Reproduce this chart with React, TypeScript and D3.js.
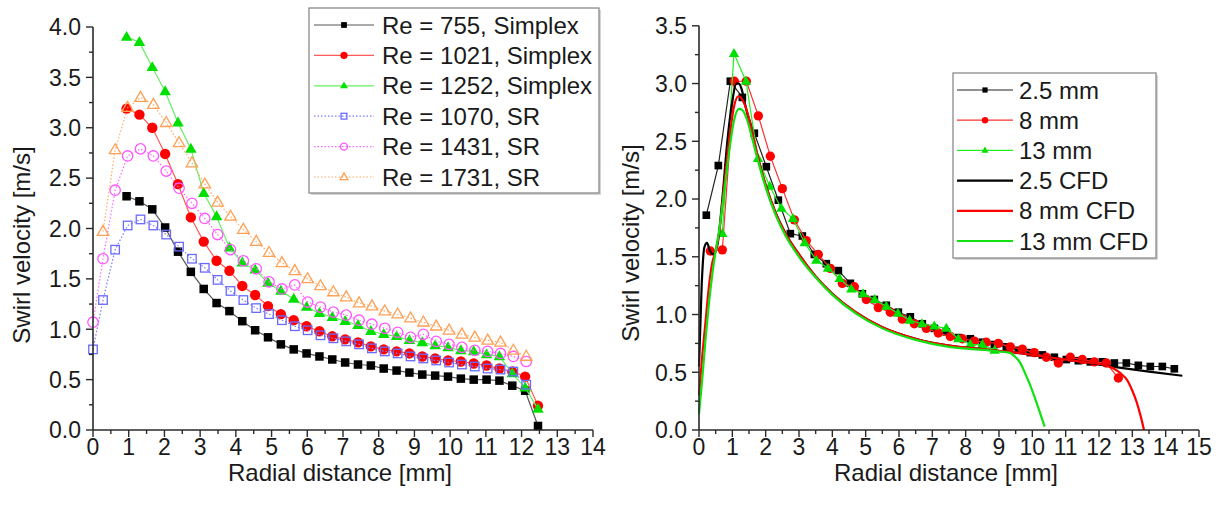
import React from 'react';
import * as d3 from 'd3';

const W = 1222;
const H = 511;
const FONT = "'Liberation Sans', Arial, Helvetica, sans-serif";

// ---------------- Left panel data ----------------
const simplexX = [0.94, 1.30, 1.66, 2.02, 2.38, 2.74, 3.10, 3.46, 3.82, 4.18, 4.54, 4.90, 5.26, 5.62, 5.98, 6.34, 6.70, 7.06, 7.42, 7.78, 8.14, 8.50, 8.86, 9.22, 9.58, 9.94, 10.30, 10.66, 11.02, 11.38, 11.74, 12.10, 12.46];
const re755 = [2.32, 2.27, 2.19, 2.01, 1.77, 1.57, 1.40, 1.26, 1.18, 1.08, 0.99, 0.92, 0.85, 0.80, 0.76, 0.73, 0.70, 0.67, 0.65, 0.64, 0.61, 0.59, 0.57, 0.55, 0.54, 0.53, 0.51, 0.50, 0.50, 0.49, 0.44, 0.39, 0.04];
const re1021 = [3.19, 3.13, 3.00, 2.74, 2.44, 2.11, 1.87, 1.68, 1.58, 1.43, 1.34, 1.23, 1.15, 1.09, 1.03, 0.98, 0.93, 0.90, 0.87, 0.83, 0.80, 0.78, 0.76, 0.73, 0.71, 0.69, 0.68, 0.66, 0.64, 0.61, 0.58, 0.53, 0.24];
const re1252 = [3.90, 3.85, 3.60, 3.36, 3.05, 2.79, 2.35, 2.12, 1.81, 1.66, 1.59, 1.46, 1.38, 1.30, 1.22, 1.16, 1.12, 1.08, 1.04, 0.98, 0.95, 0.93, 0.89, 0.87, 0.84, 0.82, 0.79, 0.78, 0.75, 0.73, 0.56, 0.42, 0.21];

const srX = [0, 0.28, 0.62, 0.97, 1.33, 1.69, 2.05, 2.41, 2.77, 3.13, 3.49, 3.85, 4.21, 4.57, 4.93, 5.29, 5.65, 6.01, 6.37, 6.73, 7.09, 7.45, 7.81, 8.17, 8.53, 8.89, 9.25, 9.61, 9.97, 10.33, 10.69, 11.05, 11.41, 11.77, 12.13];
const re1070 = [0.80, 1.29, 1.79, 2.03, 2.09, 2.03, 1.94, 1.82, 1.70, 1.61, 1.49, 1.38, 1.29, 1.21, 1.15, 1.09, 1.03, 0.99, 0.94, 0.91, 0.88, 0.85, 0.81, 0.78, 0.76, 0.73, 0.71, 0.69, 0.67, 0.65, 0.63, 0.61, 0.60, 0.58, 0.45];
const re1431 = [1.07, 1.70, 2.38, 2.72, 2.79, 2.72, 2.57, 2.40, 2.25, 2.10, 1.94, 1.79, 1.68, 1.60, 1.47, 1.40, 1.44, 1.27, 1.22, 1.17, 1.14, 1.09, 1.05, 1.01, 0.97, 0.92, 0.95, 0.88, 0.85, 0.82, 0.79, 0.78, 0.76, 0.73, 0.68];
const re1731X = [0.28, 0.62, 0.97, 1.33, 1.69, 2.05, 2.41, 2.77, 3.13, 3.49, 3.85, 4.21, 4.57, 4.93, 5.29, 5.65, 6.01, 6.37, 6.73, 7.09, 7.45, 7.81, 8.17, 8.53, 8.89, 9.25, 9.61, 9.97, 10.33, 10.69, 11.05, 11.41, 11.77, 12.13];
const re1731 = [1.97, 2.78, 3.20, 3.30, 3.23, 3.05, 2.85, 2.65, 2.44, 2.26, 2.12, 1.99, 1.87, 1.76, 1.66, 1.58, 1.50, 1.43, 1.37, 1.32, 1.26, 1.23, 1.18, 1.15, 1.11, 1.07, 1.03, 0.99, 0.95, 0.92, 0.89, 0.87, 0.79, 0.73];

const leftXTicks = d3.range(0, 15, 1);
const leftYTicks = d3.range(0, 4.01, 0.5);

// ---------------- Right panel data ----------------
const mm25X = [0.22, 0.58, 0.94, 1.30, 1.66, 2.02, 2.38, 2.74, 3.10, 3.46, 3.82, 4.18, 4.54, 4.90, 5.26, 5.62, 5.98, 6.34, 6.70, 7.06, 7.42, 7.78, 8.14, 8.50, 8.86, 9.22, 9.58, 9.94, 10.30, 10.66, 11.02, 11.38, 11.74, 12.10, 12.46, 12.82, 13.18, 13.54, 13.90, 14.26];
const mm25 = [1.86, 2.29, 3.02, 2.88, 2.57, 2.28, 1.99, 1.70, 1.68, 1.52, 1.44, 1.38, 1.27, 1.18, 1.13, 1.08, 1.02, 0.98, 0.92, 0.88, 0.85, 0.80, 0.79, 0.76, 0.74, 0.72, 0.69, 0.67, 0.65, 0.63, 0.61, 0.60, 0.59, 0.59, 0.58, 0.58, 0.56, 0.55, 0.55, 0.53];
const mm8X = [0.34, 0.70, 1.06, 1.42, 1.78, 2.14, 2.50, 2.86, 3.22, 3.58, 3.94, 4.30, 4.66, 5.02, 5.38, 5.74, 6.10, 6.46, 6.82, 7.18, 7.54, 7.90, 8.26, 8.62, 8.98, 9.34, 9.70, 10.06, 10.42, 10.78, 11.14, 11.50, 11.86, 12.22, 12.58];
const mm8 = [1.55, 1.56, 3.02, 3.02, 2.72, 2.37, 2.09, 1.82, 1.64, 1.52, 1.40, 1.27, 1.24, 1.13, 1.06, 1.02, 0.96, 0.92, 0.88, 0.84, 0.81, 0.79, 0.77, 0.76, 0.75, 0.72, 0.70, 0.67, 0.63, 0.58, 0.63, 0.61, 0.59, 0.58, 0.45];
const mm13X = [0.70, 1.05, 1.41, 1.77, 2.12, 2.47, 2.82, 3.17, 3.52, 3.87, 4.22, 4.57, 4.92, 5.27, 5.62, 5.97, 6.32, 6.69, 7.06, 7.42, 7.78, 8.14, 8.50, 8.87];
const mm13 = [1.70, 3.26, 3.02, 2.35, 2.11, 1.92, 1.83, 1.62, 1.47, 1.40, 1.31, 1.22, 1.18, 1.13, 1.07, 1.01, 0.95, 0.92, 0.90, 0.88, 0.79, 0.74, 0.74, 0.69];

const cfd25X = [0, 0.08, 0.16, 0.24, 0.32, 0.42, 0.55, 0.7, 0.85, 1.0, 1.12, 1.2, 1.28, 1.4, 1.6, 1.8, 2.0, 2.3, 2.6, 3.0, 3.5, 4.0, 4.7, 5.5, 6.5, 7.5, 8.5, 9.5, 10.5, 11.5, 12.5, 13.5, 14.5];
const cfd25 = [0.55, 1.25, 1.58, 1.62, 1.56, 1.52, 1.6, 2.0, 2.5, 2.85, 3.0, 3.0, 2.95, 2.8, 2.55, 2.32, 2.12, 1.88, 1.7, 1.52, 1.33, 1.18, 1.02, 0.89, 0.79, 0.73, 0.70, 0.67, 0.63, 0.59, 0.545, 0.505, 0.47];
const cfd8X = [0, 0.1, 0.2, 0.3, 0.4, 0.5, 0.6, 0.75, 0.9, 1.05, 1.18, 1.3, 1.45, 1.6, 1.8, 2.0, 2.3, 2.6, 3.0, 3.5, 4.0, 4.7, 5.5, 6.5, 7.5, 8.5, 9.5, 10.5, 11.5, 12.2, 12.45, 12.65, 12.85, 13.0, 13.12, 13.25, 13.35];
const cfd8 = [0.3, 0.65, 0.95, 1.25, 1.45, 1.55, 1.7, 2.1, 2.5, 2.8, 2.89, 2.86, 2.75, 2.57, 2.33, 2.12, 1.88, 1.7, 1.52, 1.33, 1.18, 1.02, 0.89, 0.79, 0.73, 0.70, 0.67, 0.63, 0.59, 0.56, 0.53, 0.49, 0.43, 0.34, 0.25, 0.12, 0.0];
const cfd13X = [0, 0.1, 0.2, 0.3, 0.4, 0.5, 0.6, 0.75, 0.9, 1.05, 1.2, 1.3, 1.45, 1.6, 1.8, 2.0, 2.3, 2.6, 3.0, 3.5, 4.0, 4.7, 5.5, 6.5, 7.5, 8.2, 8.7, 9.0, 9.3, 9.5, 9.62, 9.8, 9.92, 10.05, 10.17, 10.37];
const cfd13 = [0.14, 0.45, 0.8, 1.1, 1.35, 1.55, 1.72, 2.05, 2.4, 2.68, 2.78, 2.77, 2.68, 2.52, 2.3, 2.1, 1.86, 1.68, 1.5, 1.32, 1.17, 1.01, 0.88, 0.78, 0.72, 0.70, 0.69, 0.68, 0.67, 0.63, 0.59, 0.48, 0.40, 0.30, 0.20, 0.03];

const rightXTicks = d3.range(0, 16, 1);
const rightYTicks = d3.range(0, 3.51, 0.5);

type Shape = 'square' | 'circle' | 'triangle' | 'none';

interface Series {
  label: string;
  xs: number[];
  ys: number[];
  shape: Shape;
  filled: boolean;
  color: string;
  lineColor: string;
  dash?: string;
  lineWidth: number;
  curve?: boolean;
}

const leftSeries: Series[] = [
  { label: 'Re = 755, Simplex', xs: simplexX, ys: re755, shape: 'square', filled: true, color: '#000000', lineColor: '#555555', lineWidth: 1.2 },
  { label: 'Re = 1021, Simplex', xs: simplexX, ys: re1021, shape: 'circle', filled: true, color: '#ff0000', lineColor: '#ff5a5a', lineWidth: 1.2 },
  { label: 'Re = 1252, Simplex', xs: simplexX, ys: re1252, shape: 'triangle', filled: true, color: '#00e000', lineColor: '#66ee66', lineWidth: 1.2 },
  { label: 'Re = 1070, SR', xs: srX, ys: re1070, shape: 'square', filled: false, color: '#6a6aff', lineColor: '#7a7aff', dash: '1.5,2', lineWidth: 1.2 },
  { label: 'Re = 1431, SR', xs: srX, ys: re1431, shape: 'circle', filled: false, color: '#ff55ff', lineColor: '#ff66ff', dash: '1.5,2', lineWidth: 1.2 },
  { label: 'Re = 1731, SR', xs: re1731X, ys: re1731, shape: 'triangle', filled: false, color: '#ffa055', lineColor: '#ffaa66', dash: '1.5,2', lineWidth: 1.2 },
];

const rightSeries: Series[] = [
  { label: '2.5 mm', xs: mm25X, ys: mm25, shape: 'square', filled: true, color: '#000000', lineColor: '#222222', lineWidth: 1.2 },
  { label: '8 mm', xs: mm8X, ys: mm8, shape: 'circle', filled: true, color: '#ff0000', lineColor: '#ff3030', lineWidth: 1.2 },
  { label: '13 mm', xs: mm13X, ys: mm13, shape: 'triangle', filled: true, color: '#00e000', lineColor: '#22ee22', lineWidth: 1.2 },
  { label: '2.5 CFD', xs: cfd25X, ys: cfd25, shape: 'none', filled: true, color: '#000000', lineColor: '#000000', lineWidth: 2.2, curve: true },
  { label: '8 mm CFD', xs: cfd8X, ys: cfd8, shape: 'none', filled: true, color: '#ff0000', lineColor: '#ff0000', lineWidth: 2.2, curve: true },
  { label: '13 mm CFD', xs: cfd13X, ys: cfd13, shape: 'none', filled: true, color: '#00dd00', lineColor: '#11e011', lineWidth: 2.2, curve: true },
];

function Marker({ shape, x, y, color, filled, s }: { shape: Shape; x: number; y: number; color: string; filled: boolean; s: number }) {
  const sw = filled ? 0 : 1.3;
  const fill = filled ? color : 'none';
  if (shape === 'square') {
    const h = s * 0.85;
    return <rect x={x - h / 2} y={y - h / 2} width={h} height={h} fill={fill} stroke={color} strokeWidth={sw} />;
  }
  if (shape === 'circle') {
    return <circle cx={x} cy={y} r={s * 0.52} fill={fill} stroke={color} strokeWidth={sw} />;
  }
  if (shape === 'triangle') {
    const a = s * 1.15;
    const hh = a * 0.866;
    const pts = `${x},${y - hh * 0.62} ${x - a / 2},${y + hh * 0.38} ${x + a / 2},${y + hh * 0.38}`;
    return <polygon points={pts} fill={fill} stroke={color} strokeWidth={sw} />;
  }
  return null;
}

interface LegendBox { left: number; top: number; right: number; bottom: number; rowY0: number; rowStep: number; lineX0: number; lineX1: number; textX: number }

interface PanelProps {
  x0: number; x1: number; y0: number; y1: number;
  xMax: number; yMax: number;
  xTicks: number[]; yTicks: number[];
  series: Series[];
  markerSize: number;
  titleX: number;
  titleY: number;
  legend: LegendBox;
}

function Panel(p: PanelProps) {
  const xs = d3.scaleLinear().domain([0, p.xMax]).range([p.x0, p.x1]);
  const ys = d3.scaleLinear().domain([0, p.yMax]).range([p.y0, p.y1]);
  const minorX = d3.range(0, p.xMax + 0.001, 0.5);
  const minorY = d3.range(0, p.yMax + 0.001, 0.25);
  const axisColor = '#2a2a2a';
  const textColor = '#1a1a1a';
  const fmt = d3.format('.1f');
  const lg = p.legend;
  return (
    <g>
      {p.series.map((s, i) => {
        const pts = s.xs.map((x, k) => [x, s.ys[k]] as [number, number]);
        const line = d3.line<[number, number]>().x(d => xs(d[0])).y(d => ys(d[1]));
        if (s.curve) line.curve(d3.curveMonotoneX);
        return (
          <g key={i}>
            <path d={line(pts) || ''} fill="none" stroke={s.lineColor} strokeWidth={s.lineWidth} strokeDasharray={s.dash} strokeLinejoin="round" />
            {s.shape !== 'none' && pts.map((d, k) => (
              <Marker key={k} shape={s.shape} x={xs(d[0])} y={ys(d[1])} color={s.color} filled={s.filled} s={p.markerSize} />
            ))}
          </g>
        );
      })}
      <line x1={p.x0} x2={p.x1} y1={p.y0} y2={p.y0} stroke={axisColor} strokeWidth={1.6} />
      <line x1={p.x0} x2={p.x0} y1={p.y0} y2={p.y1} stroke={axisColor} strokeWidth={1.6} />
      {minorX.map((t, i) => {
        const major = Math.abs(t - Math.round(t)) < 1e-6;
        return <line key={'mx' + i} x1={xs(t)} x2={xs(t)} y1={p.y0} y2={p.y0 + (major ? 7 : 4)} stroke={axisColor} strokeWidth={1.4} />;
      })}
      {minorY.map((t, i) => {
        const major = Math.abs(t * 2 - Math.round(t * 2)) < 1e-6;
        return <line key={'my' + i} x1={p.x0} x2={p.x0 - (major ? 7 : 4)} y1={ys(t)} y2={ys(t)} stroke={axisColor} strokeWidth={1.4} />;
      })}
      {p.xTicks.map((t, i) => (
        <text key={'xt' + i} x={xs(t)} y={p.y0 + 25} textAnchor="middle" fontSize={23} fontFamily={FONT} fill={textColor}>{t}</text>
      ))}
      {p.yTicks.map((t, i) => (
        <text key={'yt' + i} x={p.x0 - 12} y={ys(t)} dy="0.36em" textAnchor="end" fontSize={23} fontFamily={FONT} fill={textColor}>{fmt(t)}</text>
      ))}
      <text x={(p.x0 + p.x1) / 2 - 3} y={p.y0 + 51} textAnchor="middle" fontSize={24} fontFamily={FONT} fill={textColor}>Radial distance [mm]</text>
      <text transform={`translate(${p.titleX},${p.titleY}) rotate(-90)`} dy="0.35em" textAnchor="middle" fontSize={24} fontFamily={FONT} fill={textColor}>Swirl velocity [m/s]</text>
      <rect x={lg.left + 2} y={lg.top + 2} width={lg.right - lg.left} height={lg.bottom - lg.top} fill="#d4d4d4" />
      <rect x={lg.left} y={lg.top} width={lg.right - lg.left} height={lg.bottom - lg.top} fill="#ffffff" stroke="#8a8a8a" strokeWidth={1.3} />
      {p.series.map((s, i) => {
        const y = lg.rowY0 + i * lg.rowStep;
        const mx = (lg.lineX0 + lg.lineX1) / 2;
        return (
          <g key={'lg' + i}>
            <line x1={lg.lineX0} x2={lg.lineX1} y1={y} y2={y} stroke={s.lineColor} strokeWidth={s.lineWidth} strokeDasharray={s.dash} />
            {s.shape !== 'none' && <Marker shape={s.shape} x={mx} y={y} color={s.color} filled={s.filled} s={p.markerSize * 0.68} />}
            <text x={lg.textX} y={y} dy="0.36em" fontSize={24} fontFamily={FONT} fill={textColor}>{s.label}</text>
          </g>
        );
      })}
    </g>
  );
}

export default function App() {
  return (
    <svg width={W} height={H} style={{ position: 'absolute', left: 0, top: 0, background: '#ffffff' }} xmlns="http://www.w3.org/2000/svg">
      <rect x={0} y={0} width={W} height={H} fill="#ffffff" />
      <Panel
        x0={93} x1={593} y0={430} y1={27} xMax={14} yMax={4}
        xTicks={leftXTicks} yTicks={leftYTicks} series={leftSeries} markerSize={10}
        titleX={22} titleY={245}
        legend={{ left: 309, top: 8, right: 599, bottom: 193, rowY0: 25, rowStep: 30.4, lineX0: 314, lineX1: 374, textX: 382 }}
      />
      <Panel
        x0={699} x1={1199} y0={430} y1={25.8} xMax={15} yMax={3.5}
        xTicks={rightXTicks} yTicks={rightYTicks} series={rightSeries} markerSize={9}
        titleX={631} titleY={243}
        legend={{ left: 953, top: 73, right: 1156, bottom: 258, rowY0: 90, rowStep: 30.2, lineX0: 957, lineX1: 1013, textX: 1019 }}
      />
    </svg>
  );
}
